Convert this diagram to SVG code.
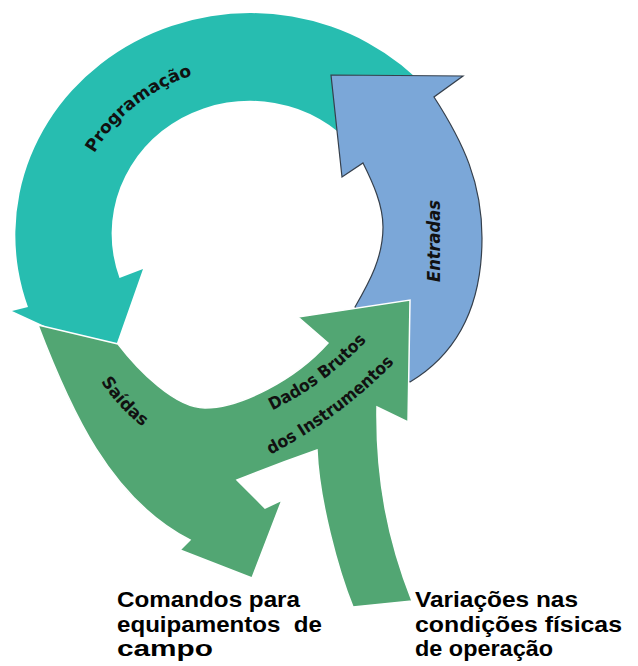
<svg xmlns="http://www.w3.org/2000/svg" width="638" height="666" viewBox="0 0 638 666">
<style>
.arc{font-family:'DejaVu Sans Condensed','Liberation Sans Narrow','DejaVu Sans',sans-serif;font-weight:bold;font-size:17px;fill:#111;}
.lbl{font-family:'Liberation Sans',Arial,sans-serif;font-weight:bold;font-size:22px;fill:#000;}
.teal{fill:#27BDB0;}
.blue{fill:#7BA7D8;stroke:#36404c;stroke-width:1.2;stroke-linejoin:miter;}
.green{fill:#52A673;stroke:#fff;stroke-width:1.5;stroke-linejoin:miter;}
</style>
<defs>
<path id="pProg" d="M 88.5 164 A 178 169 0 0 1 204 72"/>
<path id="pSaidas" d="M 96 374 Q 117 409 150 432"/>
<path id="pDados1" d="M 269 412 Q 326 385 369 338"/>
<path id="pDados2" d="M 266 457 Q 340 419 398 359"/>
</defs>
<rect width="638" height="666" fill="#fff"/>
<g id="programacao">
<path class="teal" d="M 430 92 A 235 222 0 0 0 28 307 L 12 311 L 112 357 L 143 269 L 119.5 278 A 138 133 0 0 1 356 149 Z"/>
<text class="arc" font-size="19"><textPath href="#pProg" startOffset="50%" text-anchor="middle" textLength="128" lengthAdjust="spacingAndGlyphs">Programação</textPath></text>
</g>
<g id="entradas">
<path class="blue" d="M 331 75 L 463 76 L 434 97 C 463.7 143 482 183 482 238 C 482 310 455 355 410 382 L 395 372 L 362 318 L 355 307 C 370 281 383 257 383 227 C 383 205 373 183 363 163 L 342 177 Z"/>
<text class="arc" font-style="italic" font-size="26" transform="translate(440,241) rotate(-90)" text-anchor="middle" textLength="82" lengthAdjust="spacingAndGlyphs">Entradas</text>
</g>
<g id="saidas-dados">
<path class="green" d="M 38 325 L 118 344 C 138 370 175 408 205 408 C 240 408 295 380 328 343 L 298 317 L 410 300 L 408 422 L 377 407 C 376 480 388 540 412 601 L 353 607 C 338 570 319 500 317 450 Q 277 464 237 480 L 265 508 L 282 500 L 252 578 L 180 550 L 190 540 C 110 499 70 409 38 325 Z"/>
<text class="arc" font-size="18"><textPath href="#pSaidas" startOffset="50%" text-anchor="middle" textLength="62" lengthAdjust="spacingAndGlyphs">Saídas</textPath></text>
<text class="arc" font-size="18"><textPath href="#pDados1" startOffset="50%" text-anchor="middle" textLength="118" lengthAdjust="spacingAndGlyphs">Dados Brutos</textPath></text>
<text class="arc" font-size="18"><textPath href="#pDados2" startOffset="50%" text-anchor="middle" textLength="155" lengthAdjust="spacingAndGlyphs">dos Instrumentos</textPath></text>
</g>
<g id="comandos">
<text class="lbl" x="117" y="607" textLength="183" lengthAdjust="spacingAndGlyphs">Comandos para</text>
<text class="lbl" x="117" y="632" xml:space="preserve" textLength="205" lengthAdjust="spacingAndGlyphs">equipamentos  de</text>
<text class="lbl" x="117" y="656" textLength="96" lengthAdjust="spacingAndGlyphs">campo</text>
</g>
<g id="variacoes">
<text class="lbl" x="415" y="607" textLength="163" lengthAdjust="spacingAndGlyphs">Variações nas</text>
<text class="lbl" x="415" y="632" textLength="207" lengthAdjust="spacingAndGlyphs">condições físicas</text>
<text class="lbl" x="415" y="656" textLength="138" lengthAdjust="spacingAndGlyphs">de operação</text>
</g>
<g id="connectors"></g>
</svg>
